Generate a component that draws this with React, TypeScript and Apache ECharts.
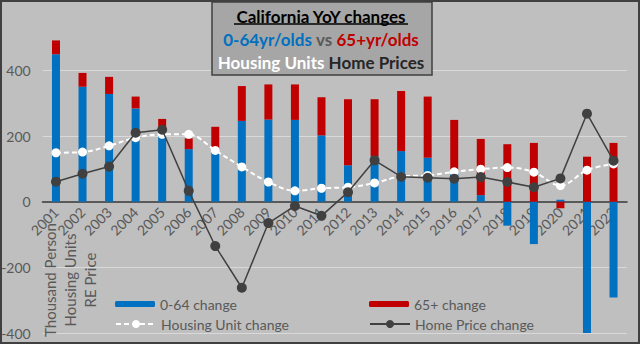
import React, { useEffect, useRef } from "react";
import * as echarts from "echarts";

const years = ["2001","2002","2003","2004","2005","2006","2007","2008","2009","2010","2011","2012","2013","2014","2015","2016","2017","2018","2019","2020","2021","2022"];
const age0to64 = [449, 350, 328, 284, 222, 160, 157, 246, 250, 249, 202, 111, 138, 154, 134, 93, 20, -73, -129, 6, -400, -292];
const age65plus = [42, 42, 52, 36, 30, 33, 71, 106, 107, 108, 116, 201, 174, 183, 186, 156, 171, 175, 179, -20, 137, 179];
const housingUnits = [149, 151, 170, 195, 205, 205, 156, 106, 60, 33, 41, 44, 57, 77, 80, 91, 99, 104, 90, 49, 96, 115];
const homePrices = [61, 85, 107, 210, 219, 33, -135, -262, -65, -13, -43, 29, 126, 76, 73, 70, 75, 60, 44, 71, 268, 125];

const Y_MIN = -400;
const Y_MAX = 600;
const FONT = "Lato";
const GRAY = "#595959";

export default function App() {
  const ref = useRef<HTMLDivElement>(null);
  useEffect(() => {
    document.body.style.margin = "0";
    const chart = echarts.init(ref.current!, null, { renderer: "svg" });
    const gridTop = 4.6;
    const gridBottom = 10.9;
    const plotH = 344 - gridTop - gridBottom;
    // move the category axis (line + labels) up to the value-axis zero
    const zeroOffset = -plotH * (0 - Y_MIN) / (Y_MAX - Y_MIN);
    const legendBase = {
      orient: "horizontal",
      padding: 0,
      itemWidth: 40,
      selectedMode: false,
      textStyle: { color: GRAY, fontSize: 14, fontFamily: FONT },
    };
    chart.setOption({
      animation: false,
      backgroundColor: "#bfbfbf",
      textStyle: { fontFamily: FONT },
      grid: {
        left: 42.7,
        right: 13.2,
        top: gridTop,
        bottom: gridBottom,
        containLabel: false,
        outerBoundsMode: "none",
      },
      xAxis: {
        type: "category",
        data: years,
        offset: zeroOffset,
        axisLine: { onZero: false, lineStyle: { color: GRAY, width: 2 } },
        axisTick: { show: false },
        axisLabel: { rotate: 45, color: GRAY, fontSize: 14, fontFamily: FONT, margin: 8, interval: 0 },
      },
      yAxis: {
        type: "value",
        min: Y_MIN,
        max: Y_MAX,
        interval: 200,
        axisLine: { show: false },
        axisTick: { show: false },
        axisLabel: {
          color: GRAY,
          fontSize: 14,
          fontFamily: FONT,
          margin: 12,
          formatter: (v: number) => (v === 600 ? "" : String(v)),
        },
        splitLine: {
          lineStyle: {
            color: ["#d9d9d9", "#d9d9d9", "#d9d9d9", "#d9d9d9", "#d9d9d9", "rgba(0,0,0,0)"],
            width: 1,
          },
        },
      },
      legend: [
        { ...legendBase, left: 115, top: 297, itemHeight: 6, data: ["0-64 change"] },
        { ...legendBase, left: 369, top: 297, itemHeight: 6, data: ["65+ change"] },
        { ...legendBase, left: 115, top: 317, itemHeight: 10, data: ["Housing Unit change"] },
        { ...legendBase, left: 369, top: 317, itemHeight: 10, data: ["Home Price change"] },
      ],
      series: [
        {
          name: "0-64 change",
          type: "bar",
          stack: "pop",
          barWidth: 8,
          data: age0to64,
          itemStyle: { color: "#0070c0" },
        },
        {
          name: "65+ change",
          type: "bar",
          stack: "pop",
          barWidth: 8,
          data: age65plus,
          itemStyle: { color: "#c00000" },
        },
        {
          name: "Housing Unit change",
          type: "line",
          data: housingUnits,
          smooth: 0.35,
          symbol: "circle",
          symbolSize: 9,
          itemStyle: { color: "#ffffff" },
          lineStyle: { color: "#ffffff", width: 2, type: [5, 3] },
          z: 3,
        },
        {
          name: "Home Price change",
          type: "line",
          data: homePrices,
          symbol: "circle",
          symbolSize: 10,
          itemStyle: { color: "#404040" },
          lineStyle: { color: "#404040", width: 1.5 },
          z: 4,
        },
      ],
      graphic: [
        {
          type: "text",
          x: 70,
          y: 280,
          rotation: Math.PI / 2,
          style: {
            text: "Thousand Person\nHousing Units\nRE Price",
            fill: GRAY,
            font: `15px ${FONT}`,
            lineHeight: 20,
            align: "center",
            verticalAlign: "middle",
          },
          z: 10,
        },
        {
          type: "rect",
          shape: { x: 212, y: 2, width: 220, height: 73 },
          style: { fill: "#a6a6a6", stroke: "#404040", lineWidth: 1.5 },
          z: 20,
        },
        {
          type: "text",
          x: 321,
          y: 16,
          style: {
            text: "California YoY changes",
            fill: "#000000",
            font: `bold 17px ${FONT}`,
            align: "center",
            verticalAlign: "middle",
          },
          z: 21,
        },
        {
          type: "line",
          shape: { x1: 234, y1: 24, x2: 408, y2: 24 },
          style: { stroke: "#000000", lineWidth: 1.3 },
          z: 21,
        },
        {
          type: "text",
          x: 321,
          y: 39,
          style: {
            text: "{b|0-64yr/olds} {g|vs} {r|65+yr/olds}",
            align: "center",
            verticalAlign: "middle",
            font: `bold 17px ${FONT}`,
            rich: {
              b: { fill: "#0070c0", font: `bold 17px ${FONT}` },
              g: { fill: GRAY, font: `bold 17px ${FONT}` },
              r: { fill: "#c00000", font: `bold 17px ${FONT}` },
            },
          },
          z: 21,
        },
        {
          type: "text",
          x: 321,
          y: 62,
          style: {
            text: "{w|Housing Units} {k|Home Prices}",
            align: "center",
            verticalAlign: "middle",
            font: `bold 17px ${FONT}`,
            rich: {
              w: { fill: "#ffffff", font: `bold 17px ${FONT}` },
              k: { fill: "#262626", font: `bold 17px ${FONT}` },
            },
          },
          z: 21,
        },
        {
          type: "rect",
          shape: { x: 1, y: 1, width: 638, height: 342 },
          style: { fill: "none", stroke: "#404040", lineWidth: 2 },
          z: 30,
        },
      ],
    });
    return () => chart.dispose();
  }, []);
  return <div ref={ref} style={{ width: 640, height: 344 }} />;
}
